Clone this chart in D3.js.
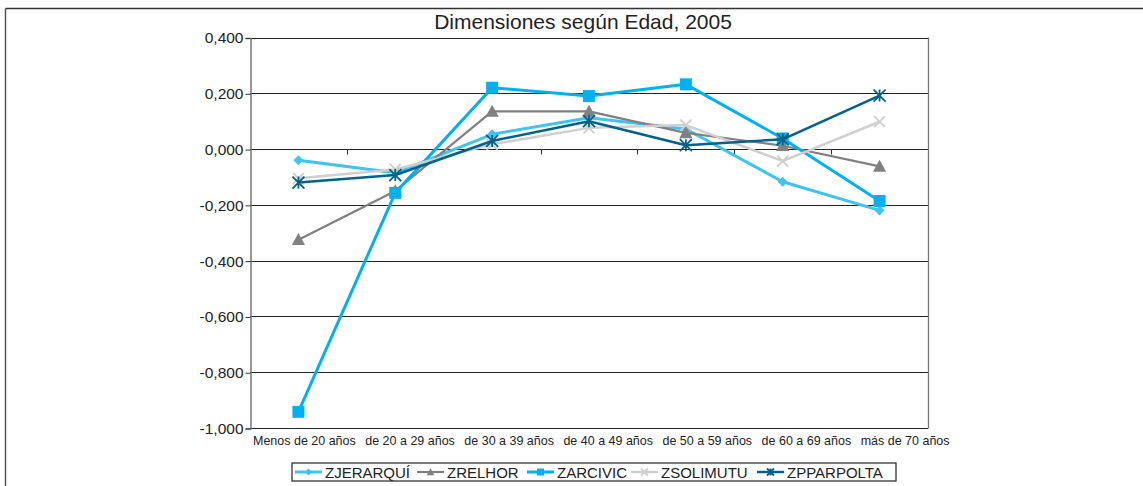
<!DOCTYPE html>
<html>
<head>
<meta charset="utf-8">
<script src="https://cdn.jsdelivr.net/npm/d3@7"></script>
<style>
  body { margin: 0; background: #fff; }
  svg text { font-family: "Liberation Sans", Arial, sans-serif; fill: #222; }
</style>
</head>
<body>
<div id="chart"></div>
<script>
// Data
var categories = ["Menos de 20 años", "de 20 a 29 años", "de 30 a 39 años", "de 40 a 49 años",
                  "de 50 a 59 años", "de 60 a 69 años", "más de 70 años"];
var seriesNames = ["ZJERARQUÍ", "ZRELHOR", "ZARCIVIC", "ZSOLIMUTU", "ZPPARPOLTA"];
var zjerarqui  = [-0.040, -0.085, 0.053, 0.112, 0.072, -0.117, -0.220];
var zrelhor    = [-0.325, -0.150, 0.135, 0.135, 0.058, 0.012, -0.062];
var zarcivic   = [-0.942, -0.157, 0.220, 0.190, 0.232, 0.038, -0.186];
var zsolimutu  = [-0.105, -0.073, 0.017, 0.076, 0.086, -0.043, 0.098];
var zpparpolta = [-0.120, -0.093, 0.029, 0.100, 0.014, 0.035, 0.192];
var yTicks = [0.4, 0.2, 0, -0.2, -0.4, -0.6, -0.8, -1.0];

var width = 1143, height = 486;
var plot = {left: 250, right: 928, top: 37.5, bottom: 428};

var styles = [
  {color: "#3fc3f0", width: 3,   marker: "diamond"},
  {color: "#808080", width: 2.2, marker: "triangle"},
  {color: "#00b0f0", width: 3,   marker: "square"},
  {color: "#cfcfcf", width: 2.5, marker: "cross"},
  {color: "#00618a", width: 2.5, marker: "star"}
];
var allValues = [zjerarqui, zrelhor, zarcivic, zsolimutu, zpparpolta];

var svg = d3.select("#chart").append("svg")
    .attr("width", width)
    .attr("height", height);

// outer frame (top and left edges visible)
svg.append("line").attr("x1", 5.5).attr("y1", 8.5).attr("x2", width).attr("y2", 8.5)
    .attr("stroke", "#333").attr("stroke-width", 1.5);
svg.append("line").attr("x1", 5.5).attr("y1", 8.5).attr("x2", 5.5).attr("y2", height)
    .attr("stroke", "#555").attr("stroke-width", 1.5);

var x = d3.scaleBand().domain(categories).range([plot.left, plot.right]);
var y = d3.scaleLinear().domain([-1, 0.4]).range([plot.bottom, plot.top]);

// gridlines
svg.append("g").selectAll("line").data(yTicks).enter().append("line")
    .attr("x1", plot.left).attr("x2", plot.right)
    .attr("y1", d => Math.round(y(d)) + 0.5).attr("y2", d => Math.round(y(d)) + 0.5)
    .attr("stroke", "#222").attr("stroke-width", 1);

// plot area right side
svg.append("line").attr("x1", plot.right + 0.5).attr("x2", plot.right + 0.5)
    .attr("y1", plot.top).attr("y2", plot.bottom + 0.5)
    .attr("stroke", "#777").attr("stroke-width", 1.3);

// y axis
var yAxis = d3.axisLeft(y).tickValues(yTicks).tickSize(5).tickPadding(2)
    .tickFormat(d => d3.format(".3f")(d).replace(".", ",").replace("−", "-"));
var gy = svg.append("g").attr("transform", "translate(" + (plot.left + 0.5) + ",0.5)").call(yAxis);
gy.select(".domain").attr("stroke", "#777").attr("stroke-width", 1.5);
gy.selectAll(".tick line").attr("stroke", "#333");
gy.selectAll("text").style("font-size", "15.5px").attr("fill", "#222")
    .style("font-family", "'Liberation Sans', Arial, sans-serif");

// category axis sits on the zero line, ticks between categories
var ticksX = categories.slice(1).map(c => x(c));
svg.append("g").selectAll("line").data(ticksX).enter().append("line")
    .attr("x1", d => Math.round(d) + 0.5).attr("x2", d => Math.round(d) + 0.5)
    .attr("y1", Math.round(y(0)) + 0.5).attr("y2", Math.round(y(0)) + 5.5)
    .attr("stroke", "#333");

// category labels at the bottom, laid out one after another (condensed)
var labels = svg.append("g").selectAll("text").data(categories).enter().append("text")
    .attr("y", 445)
    .style("font-size", "13.5px")
    .text(d => d);
var cursor = plot.left + 3;
labels.each(function() {
  var t = d3.select(this);
  var w = this.getComputedTextLength() * 0.925;
  t.attr("x", cursor).attr("textLength", w).attr("lengthAdjust", "spacingAndGlyphs");
  cursor += w + 9.5;
});

// title
svg.append("text").attr("x", 583).attr("y", 29)
    .attr("text-anchor", "middle").style("font-size", "21px")
    .text("Dimensiones según Edad, 2005");

function markerPath(type, size) {
  var s = size;
  if (type === "diamond") return "M0," + (-s) + "L" + s + ",0L0," + s + "L" + (-s) + ",0Z";
  if (type === "square") return "M" + (-s) + "," + (-s) + "h" + 2 * s + "v" + 2 * s + "h" + (-2 * s) + "Z";
  if (type === "triangle") return "M0," + (-s * 1.1) + "L" + s * 1.1 + "," + s * 0.9 + "L" + (-s * 1.1) + "," + s * 0.9 + "Z";
  if (type === "cross") return "M" + (-s) + "," + (-s) + "L" + s + "," + s + "M" + (-s) + "," + s + "L" + s + "," + (-s);
  if (type === "star") return "M" + (-s) + "," + (-s) + "L" + s + "," + s + "M" + (-s) + "," + s + "L" + s + "," + (-s) + "M0," + (-s) + "L0," + s;
}

function drawMarker(g, type, color, cx, cy, size) {
  var filled = (type === "diamond" || type === "square" || type === "triangle");
  g.append("path")
    .attr("transform", "translate(" + cx + "," + cy + ")")
    .attr("d", markerPath(type, size))
    .attr("fill", filled ? color : "none")
    .attr("stroke", color)
    .attr("stroke-width", filled ? 0 : 1.8);
}

var line = d3.line()
    .x((d, i) => x(categories[i]) + x.bandwidth() / 2)
    .y(d => y(d));

allValues.forEach(function(vals, k) {
  var st = styles[k];
  var g = svg.append("g");
  g.append("path").datum(vals)
    .attr("d", line)
    .attr("fill", "none")
    .attr("stroke", st.color)
    .attr("stroke-width", st.width)
    .attr("stroke-linejoin", "round");
  var sz = {diamond: 5, triangle: 6, square: 6, cross: 5.5, star: 6}[st.marker];
  vals.forEach(function(v, i) {
    drawMarker(g, st.marker, st.color, x(categories[i]) + x.bandwidth() / 2, y(v), sz);
  });
});

// legend
var legend = svg.append("g");
legend.append("rect").attr("x", 292).attr("y", 463).attr("width", 604).attr("height", 18)
    .attr("fill", "#fff").attr("stroke", "#222").attr("stroke-width", 1.2);
var legendX = [295, 417, 527, 631, 757];
seriesNames.forEach(function(name, k) {
  var st = styles[k];
  var lx = legendX[k];
  legend.append("line").attr("x1", lx).attr("x2", lx + 27).attr("y1", 472).attr("y2", 472)
    .attr("stroke", st.color).attr("stroke-width", st.width);
  drawMarker(legend, st.marker, st.color, lx + 13.5, 472, 3.5);
  legend.append("text").attr("x", lx + 30).attr("y", 478)
    .style("font-size", "15px").text(name);
});
</script>
</body>
</html>
